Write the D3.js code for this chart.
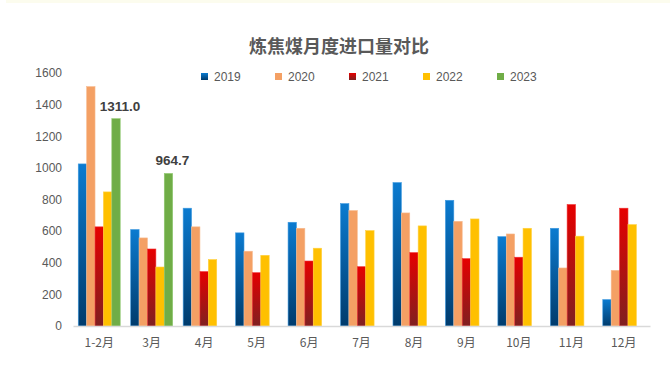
<!DOCTYPE html>
<html><head><meta charset="utf-8">
<script src="https://cdn.jsdelivr.net/npm/d3@7"></script>
<style>body{margin:0;background:#fff}svg{display:block}</style>
</head><body><svg id="c" width="670" height="370"></svg>
<script>
const title = "炼焦煤月度进口量对比";
const categories = ["1-2月","3月","4月","5月","6月","7月","8月","9月","10月","11月","12月"];
const seriesNames = ["2019","2020","2021","2022","2023"];
const v2019 = [1025, 610, 745, 589, 656, 774, 907, 795, 565, 618, 167];
const v2020 = [1514, 557, 627, 473, 618, 730, 715, 662, 582, 367, 352];
const v2021 = [627, 487, 344, 337, 411, 375, 464, 426, 435, 768, 745];
const v2022 = [848, 373, 420, 447, 492, 603, 633, 677, 618, 568, 641];
const v2023 = [1311.0, 964.7, null, null, null, null, null, null, null, null, null];
const yTicks = [0, 200, 400, 600, 800, 1000, 1200, 1400, 1600];

const series = [v2019, v2020, v2021, v2022, v2023];
const svg = d3.select("#c");
const defs = svg.append("defs");
function grad(id, top, bottom){
  const g = defs.append("linearGradient").attr("id", id).attr("x1",0).attr("y1",0).attr("x2",0).attr("y2",1);
  g.append("stop").attr("offset","0%").attr("stop-color",top);
  g.append("stop").attr("offset","100%").attr("stop-color",bottom);
}
grad("gBlue", "#0b7bd0", "#003b6c");
grad("gRed", "#e60000", "#7f2020");
const fills = ["url(#gBlue)", "#f4a064", "url(#gRed)", "#ffc000", "#70ad47"];
const strokes = ["#3f9ae0", "#f7bb90", "#f03030", "#ffd040", "#90c870"];

svg.append("rect").attr("x",6).attr("y",0).attr("width",664).attr("height",3).attr("fill","#fcfcee");

const x0 = d3.scaleBand().domain(categories).range([73, 650]).paddingInner(0.2).paddingOuter(0.1);
const x1 = d3.scaleBand().domain(seriesNames).range([0, x0.bandwidth()]);
const y = d3.scaleLinear().domain([0, 1600]).range([326, 73]);

svg.append("text").attr("x", 339).attr("y", 53).attr("text-anchor","middle")
  .attr("font-family","'Noto Sans CJK SC', sans-serif").attr("font-size",18).attr("font-weight","bold")
  .attr("fill","#595959").text(title);

// y axis
const yAxis = d3.axisLeft(y).tickValues(yTicks).tickFormat(d3.format("d")).tickSize(0).tickPadding(0);
const ya = svg.append("g").attr("transform","translate(62,0)").call(yAxis);
ya.select(".domain").remove();
ya.selectAll("text").attr("font-family","Liberation Sans, Arial, sans-serif").attr("font-size",12).attr("fill","#595959");

// bars
series.forEach((vals, si) => {
  svg.append("g").selectAll("rect").data(categories.map((c,i)=>({c, v: vals[i]})).filter(d=>d.v!=null))
    .join("rect")
    .attr("x", d => x0(d.c) + x1(seriesNames[si]))
    .attr("y", d => y(d.v))
    .attr("width", x1.bandwidth())
    .attr("height", d => y(0) - y(d.v))
    .attr("fill", fills[si])
    .attr("stroke", strokes[si]).attr("stroke-width", 0.6);
});

// x axis
const xAxis = d3.axisBottom(x0).tickSize(0).tickPadding(12);
const xa = svg.append("g").attr("transform","translate(0,326)").call(xAxis);
xa.select(".domain").attr("stroke","#d9d9d9").attr("stroke-width",1.5);
xa.selectAll("text").attr("font-family","'Noto Sans CJK SC', sans-serif").attr("font-size",12).attr("fill","#595959");

// data labels for 2023
svg.append("g").selectAll("text").data(categories.map((c,i)=>({c, v: v2023[i]})).filter(d=>d.v!=null))
  .join("text")
  .attr("x", d => x0(d.c) + x1("2023") + x1.bandwidth()/2 + 4)
  .attr("y", d => y(d.v) - 8)
  .attr("text-anchor","middle")
  .attr("font-family","Liberation Sans, Arial, sans-serif").attr("font-size",13.5).attr("font-weight","bold")
  .attr("fill","#404040").text(d => d.v.toFixed(1));

// legend
const lg = svg.append("g").attr("transform","translate(201,77)");
seriesNames.forEach((n, i) => {
  const g = lg.append("g").attr("transform",`translate(${i*74},0)`);
  g.append("rect").attr("x",0).attr("y",-4).attr("width",7).attr("height",7).attr("fill",fills[i]);
  g.append("text").attr("x",13).attr("y",4).attr("font-family","Liberation Sans, Arial, sans-serif")
    .attr("font-size",12).attr("fill","#595959").text(n);
});
</script></body></html>
